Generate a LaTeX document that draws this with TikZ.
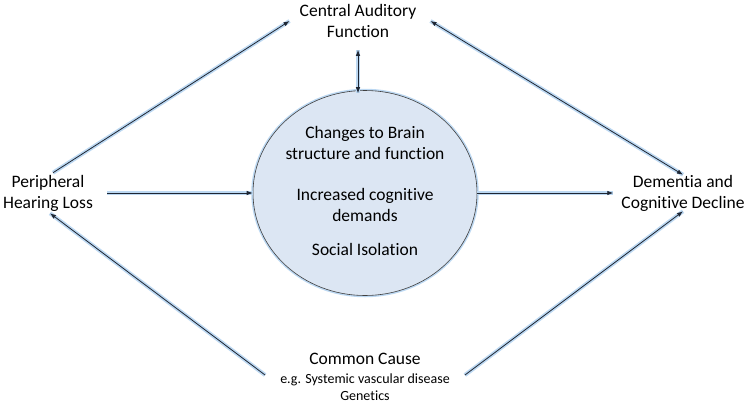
\documentclass[tikz,border=0pt]{standalone}
\usepackage{fontspec}
\setmainfont[Ligatures={NoCommon}]{Carlito}
\usetikzlibrary{arrows.meta,shapes.geometric}
\newcommand\nti{t\kern0pt i}
\definecolor{glowc}{HTML}{BCD8F2}
\definecolor{linec}{HTML}{1E2633}
\definecolor{fillc}{HTML}{DCE6F3}
\tikzset{
  lbl/.style={align=center,inner sep=2pt,font=\fontsize{17.5}{21}\selectfont,text=black},
  arr/.style={draw=linec,line width=0.8pt,-{Latex[length=6pt,width=4.5pt]},
    preaction={draw=glowc,line width=4pt,-}},
  darr/.style={draw=linec,line width=0.8pt,{Latex[length=6pt,width=4.5pt]}-{Latex[length=6pt,width=4.5pt]},
    preaction={draw=glowc,line width=4pt,-}},
  bubble/.style={ellipse,draw=black!75,line width=0.6pt,fill=fillc,minimum width=224pt,minimum height=205pt,
    preaction={draw=glowc,line width=3.5pt}}
}
\begin{document}
\begin{tikzpicture}[x=1pt,y=-1pt]
\useasboundingbox[fill=white] (0,0) rectangle (749,405);
\node[bubble] (brain) at (365,193) {};
\node[lbl] (b1) at (365,143) {Changes to Brain\\structure and func\nti on};
\node[lbl] (b2) at (365,205) {Increased cogni\nti ve\\demands};
\node[lbl] (b3) at (365,249) {Social Isola\nti on};
\node[lbl] (caf) at (358,21) {Central Auditory\\Function};
\node[lbl,inner sep=4pt] (pl) at (48,193) {Peripheral\\Hearing Loss};
\node[lbl] (dcd) at (683,193) {Demen\nti a and\\Cogni\nti ve Decline};
\node[lbl,inner sep=3pt] (cc) at (365,377) {Common Cause\\[-2pt]{\fontsize{14}{16}\selectfont e.g. Systemic vascular disease}\\[-4pt]{\fontsize{14}{16}\selectfont Gene\nti cs}};
\draw[arr] ([xshift=5pt,yshift=-2pt]pl.north) -- ([xshift=-8pt]caf.west);
\draw[darr] ([xshift=12pt]caf.east) -- ([yshift=-2pt]dcd.north);
\draw[darr] ([yshift=-10pt]caf.south) -- ([yshift=-3pt]brain.north -| caf.south);
\draw[arr] ([xshift=10pt]pl.east) -- (brain.west);
\draw[arr] (brain.east) -- ([xshift=-6pt]dcd.west);
\draw[arr] ([xshift=-12pt,yshift=2pt]cc.west) -- ([xshift=2pt,yshift=2pt]pl.south);
\draw[arr] ([xshift=12pt,yshift=2pt]cc.east) -- ([yshift=2pt]dcd.south);
\end{tikzpicture}
\end{document}
